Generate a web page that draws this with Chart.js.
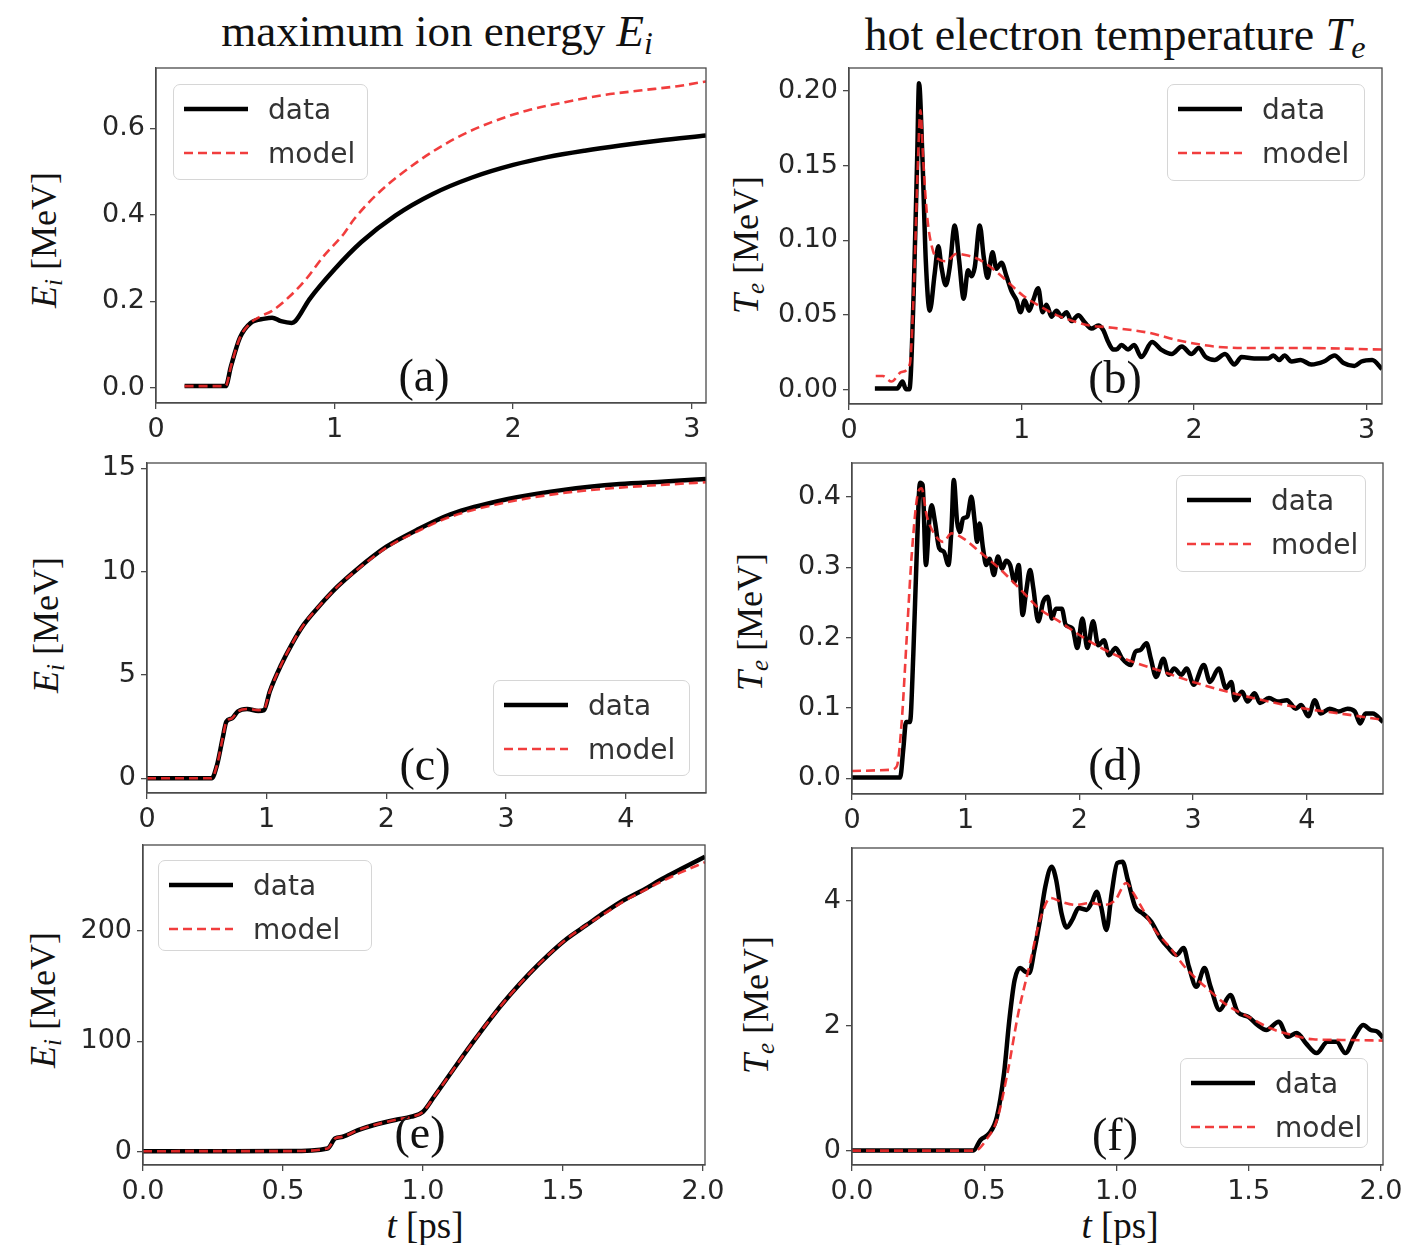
<!DOCTYPE html>
<html>
<head>
<meta charset="utf-8">
<script src="https://cdn.jsdelivr.net/npm/chart.js@4.4.1/dist/chart.umd.min.js"></script>
<style>
  body { margin: 0; background: #fff; width: 1403px; height: 1245px; position: relative; overflow: hidden; }
  canvas { position: absolute; }
  .serif { position: absolute; font-family: 'Liberation Serif', 'DejaVu Serif', serif; color: #111; white-space: nowrap; line-height: 1; transform: translate(-50%, -50%); }
  .rot { transform: translate(-50%, -50%) rotate(-90deg); }
  .serif sub { font-size: 70%; vertical-align: -0.25em; }
  .legend { position: absolute; box-sizing: border-box; border: 1.5px solid #d6d6d6; border-radius: 7px; background: rgba(255,255,255,0.85);
            font-family: 'DejaVu Sans', sans-serif; font-size: 28px; color: #333; }
  .legend .row { position: absolute; left: 0; height: 44px; display: flex; align-items: center; }
  .legend svg { margin-left: 10px; margin-right: 20px; }
</style>
</head>
<body>

<div class="serif" style="left:437px; top:34px; font-size:45px;">maximum ion energy <i>E<sub>i</sub></i></div>
<div class="serif" style="left:1115px; top:38px; font-size:46px;">hot electron temperature <i>T<sub>e</sub></i></div>

<div class="serif rot" style="left:46px; top:240px; font-size:36px;"><i>E<sub>i</sub></i> [MeV]</div>
<div class="serif rot" style="left:748px; top:245px; font-size:36px;"><i>T<sub>e</sub></i> [MeV]</div>
<div class="serif rot" style="left:48px; top:625px; font-size:36px;"><i>E<sub>i</sub></i> [MeV]</div>
<div class="serif rot" style="left:752px; top:622px; font-size:36px;"><i>T<sub>e</sub></i> [MeV]</div>
<div class="serif rot" style="left:45px; top:1000px; font-size:36px;"><i>E<sub>i</sub></i> [MeV]</div>
<div class="serif rot" style="left:758px; top:1005px; font-size:36px;"><i>T<sub>e</sub></i> [MeV]</div>

<div class="serif" style="left:425px; top:1225px; font-size:37px;"><i>t</i> [ps]</div>
<div class="serif" style="left:1120px; top:1225px; font-size:37px;"><i>t</i> [ps]</div>

<canvas id="chartA"></canvas>
<canvas id="chartB"></canvas>
<canvas id="chartC"></canvas>
<canvas id="chartD"></canvas>
<canvas id="chartE"></canvas>
<canvas id="chartF"></canvas>

<div class="serif" style="left:424px; top:376px; font-size:46px;">(a)</div>
<div class="serif" style="left:1115px; top:378px; font-size:46px;">(b)</div>
<div class="serif" style="left:425px; top:765px; font-size:46px;">(c)</div>
<div class="serif" style="left:1115px; top:765px; font-size:46px;">(d)</div>
<div class="serif" style="left:420px; top:1133px; font-size:46px;">(e)</div>
<div class="serif" style="left:1115px; top:1135px; font-size:46px;">(f)</div>

<script>
// ---------------- data ----------------

// (a) maximum ion energy, small target [MeV] vs t [ps]
const tDataA = [0.16, 0.39, 0.42, 0.47, 0.53, 0.61, 0.65, 0.70, 0.76, 0.78,
                0.86, 1.00, 1.15, 1.34, 1.55, 1.77, 2.00, 2.19, 2.40, 2.60,
                2.81, 3.08];
const eDataA = [0.004, 0.004, 0.05, 0.116, 0.15, 0.16, 0.162, 0.154, 0.15, 0.154,
                0.205, 0.274, 0.337, 0.398, 0.448, 0.486, 0.515, 0.533, 0.548, 0.56,
                0.571, 0.583];
const tModelA = [0.16, 0.39, 0.42, 0.47, 0.53, 0.59, 0.65, 0.74, 0.84, 0.94,
                 1.05, 1.11, 1.25, 1.46, 1.67, 1.88, 2.08, 2.29, 2.50, 2.71,
                 2.92, 3.08];
const eModelA = [0.004, 0.004, 0.05, 0.116, 0.15, 0.166, 0.178, 0.208, 0.251, 0.305,
                 0.355, 0.39, 0.452, 0.521, 0.575, 0.614, 0.641, 0.66, 0.676, 0.687,
                 0.697, 0.708];

// (b) hot electron temperature [MeV]
const tDataB = [0.15, 0.28, 0.31, 0.33, 0.35, 0.375, 0.395, 0.406, 0.426, 0.445,
                0.468, 0.497, 0.518, 0.536, 0.561, 0.584, 0.613, 0.638, 0.665, 0.69,
                0.71, 0.729, 0.758, 0.781, 0.803, 0.832, 0.855, 0.884, 0.913, 0.942,
                0.971, 0.994, 1.019, 1.044, 1.068, 1.097, 1.122, 1.145, 1.174, 1.203,
                1.232, 1.261, 1.29, 1.329, 1.368, 1.406, 1.445, 1.474, 1.503, 1.532,
                1.55, 1.58, 1.618, 1.653, 1.695, 1.757, 1.809, 1.871, 1.93, 1.985,
                2.027, 2.068, 2.12, 2.18, 2.234, 2.276, 2.349, 2.43, 2.46, 2.494,
                2.525, 2.566, 2.618, 2.68, 2.753, 2.815, 2.867, 2.93, 2.971, 3.033,
                3.09];
const TDataB = [0.001, 0.001, 0.0056, 0.0005, 0.0005, 0.065, 0.154, 0.205, 0.154, 0.087,
                0.053, 0.078, 0.096, 0.082, 0.07, 0.082, 0.11, 0.087, 0.061, 0.08,
                0.076, 0.082, 0.11, 0.089, 0.075, 0.092, 0.081, 0.085, 0.076, 0.066,
                0.06, 0.052, 0.06, 0.053, 0.06, 0.068, 0.052, 0.057, 0.049, 0.053,
                0.049, 0.052, 0.046, 0.05, 0.045, 0.041, 0.043, 0.04, 0.032, 0.027,
                0.027, 0.03, 0.027, 0.03, 0.022, 0.032, 0.027, 0.024, 0.029, 0.024,
                0.028, 0.022, 0.02, 0.024, 0.017, 0.022, 0.021, 0.021, 0.023, 0.02,
                0.023, 0.019, 0.02, 0.017, 0.019, 0.023, 0.018, 0.016, 0.019, 0.02,
                0.014];
const tModelB = [0.155, 0.197, 0.246, 0.304, 0.352, 0.375, 0.40, 0.414, 0.43, 0.453,
                 0.487, 0.526, 0.565, 0.623, 0.681, 0.758, 0.855, 0.932, 1.01, 1.106,
                 1.203, 1.30, 1.397, 1.493, 1.747, 1.913, 2.12, 2.328, 2.639, 3.09];
const TModelB = [0.0093, 0.0093, 0.0056, 0.012, 0.017, 0.065, 0.154, 0.187, 0.154, 0.116,
                 0.093, 0.087, 0.086, 0.091, 0.09, 0.087, 0.079, 0.071, 0.063, 0.056,
                 0.05, 0.046, 0.043, 0.042, 0.038, 0.033, 0.029, 0.028, 0.028, 0.027];

// (c) maximum ion energy, medium case
const tC = [0, 0.54, 0.585, 0.632, 0.663, 0.71, 0.758, 0.836, 0.93, 0.978,
            1.025, 1.12, 1.214, 1.308, 1.434, 1.591, 1.748, 2.0, 2.25, 2.535,
            3.006, 3.478, 3.95, 4.327, 4.67];
const eDataC = [0, 0, 0.645, 1.94, 2.74, 2.9, 3.23, 3.35, 3.26, 3.3,
                4.19, 5.48, 6.53, 7.42, 8.3, 9.27, 10.08, 11.2, 12.0, 12.77,
                13.5, 13.95, 14.23, 14.35, 14.48];
const eModelC = [0, 0, 0.645, 1.94, 2.74, 2.9, 3.23, 3.35, 3.3, 3.35,
                 4.19, 5.48, 6.53, 7.42, 8.3, 9.27, 10.05, 11.15, 11.92, 12.65,
                 13.35, 13.8, 14.06, 14.2, 14.32];

// (d) hot electron temperature, medium case
const tDataD = [0, 0.423, 0.452, 0.475, 0.51, 0.539, 0.569, 0.598, 0.621, 0.65,
                0.679, 0.70, 0.729, 0.767, 0.808, 0.848, 0.875, 0.895, 0.924, 0.948,
                0.977, 1.015, 1.05, 1.079, 1.10, 1.122, 1.152, 1.181, 1.21, 1.248,
                1.283, 1.321, 1.356, 1.391, 1.429, 1.466, 1.501, 1.531, 1.566, 1.595,
                1.638, 1.682, 1.72, 1.758, 1.793, 1.845, 1.88, 1.939, 1.982, 2.026,
                2.07, 2.12, 2.166, 2.216, 2.26, 2.318, 2.376, 2.449, 2.493, 2.534,
                2.59, 2.628, 2.675, 2.738, 2.786, 2.833, 2.896, 2.943, 3.006, 3.094,
                3.148, 3.226, 3.289, 3.336, 3.368, 3.431, 3.478, 3.541, 3.588, 3.667,
                3.746, 3.824, 3.903, 3.95, 4.013, 4.07, 4.123, 4.202, 4.281, 4.359,
                4.422, 4.469, 4.517, 4.58, 4.67];
const TDataD = [0.001, 0.001, 0.043, 0.08, 0.08, 0.175, 0.317, 0.42, 0.417, 0.303,
                0.365, 0.388, 0.365, 0.327, 0.322, 0.303, 0.355, 0.424, 0.365, 0.35,
                0.369, 0.372, 0.4, 0.365, 0.336, 0.362, 0.327, 0.303, 0.312, 0.289,
                0.315, 0.298, 0.309, 0.303, 0.279, 0.303, 0.232, 0.265, 0.296, 0.27,
                0.223, 0.251, 0.258, 0.227, 0.241, 0.241, 0.218, 0.213, 0.185, 0.227,
                0.185, 0.223, 0.189, 0.196, 0.175, 0.185, 0.17, 0.161, 0.18, 0.182,
                0.192, 0.17, 0.144, 0.17, 0.147, 0.156, 0.147, 0.156, 0.133, 0.161,
                0.137, 0.156, 0.128, 0.137, 0.111, 0.123, 0.109, 0.121, 0.107, 0.114,
                0.109, 0.111, 0.099, 0.104, 0.088, 0.111, 0.092, 0.099, 0.095, 0.099,
                0.095, 0.078, 0.092, 0.092, 0.08];
const tModelD = [0, 0.335, 0.394, 0.437, 0.481, 0.525, 0.583, 0.612, 0.656, 0.729,
                 0.802, 0.875, 0.977, 1.122, 1.297, 1.472, 1.647, 1.822, 1.997, 2.172,
                 2.347, 2.723, 3.037, 3.352, 3.667, 3.982, 4.296, 4.67];
const TModelD = [0.0104, 0.012, 0.017, 0.08, 0.199, 0.317, 0.407, 0.412, 0.374, 0.346,
                 0.336, 0.348, 0.341, 0.322, 0.298, 0.27, 0.241, 0.223, 0.204, 0.187,
                 0.173, 0.152, 0.135, 0.121, 0.109, 0.099, 0.092, 0.083];

// (e) maximum ion energy, large case
const tE = [0, 0.523, 0.659, 0.686, 0.713, 0.768, 0.822, 0.904, 0.958, 0.999,
            1.04, 1.107, 1.175, 1.243, 1.311, 1.379, 1.447, 1.515, 1.583, 1.651,
            1.719, 1.787, 1.855, 1.923, 2.007];
const eDataE = [0.5, 0.6, 3, 12, 13.6, 19.6, 24, 29, 31.7, 36,
                50, 74, 98, 121, 142, 161, 178, 193, 205, 217,
                228, 237, 247, 256, 267];
const eModelE = [0.5, 0.6, 3, 12, 13.6, 19.6, 24, 29, 31.7, 36,
                 50, 74, 98, 121, 142, 161, 178, 193, 205, 216,
                 227, 236, 245, 253, 262];

// (f) hot electron temperature, large case
const tDataF = [0, 0.459, 0.486, 0.52, 0.548, 0.575, 0.595, 0.615, 0.636, 0.656,
                0.67, 0.69, 0.711, 0.731, 0.755, 0.772, 0.792, 0.812, 0.833, 0.857,
                0.887, 0.908, 0.925, 0.942, 0.962, 0.982, 1.003, 1.023, 1.043, 1.071,
                1.098, 1.132, 1.166, 1.193, 1.227, 1.254, 1.274, 1.302, 1.333, 1.356,
                1.39, 1.431, 1.458, 1.499, 1.533, 1.567, 1.614, 1.648, 1.682, 1.716,
                1.757, 1.798, 1.832, 1.866, 1.90, 1.933, 1.961, 1.988, 2.008];
const TDataF = [0, 0, 0.17, 0.28, 0.54, 1.24, 2.09, 2.73, 2.92, 2.86,
                2.84, 3.21, 3.69, 4.22, 4.54, 4.33, 3.8, 3.57, 3.69, 3.88,
                3.85, 3.98, 4.14, 3.9, 3.53, 4.12, 4.6, 4.62, 4.33, 3.9,
                3.8, 3.66, 3.4, 3.26, 3.13, 3.24, 2.94, 2.62, 2.92, 2.62,
                2.25, 2.49, 2.22, 2.14, 2.01, 1.93, 2.06, 1.82, 1.88, 1.72,
                1.56, 1.74, 1.74, 1.56, 1.82, 2.01, 1.93, 1.9, 1.8];
const tModelF = [0, 0.466, 0.507, 0.548, 0.588, 0.629, 0.67, 0.711, 0.751, 0.792,
                 0.846, 0.901, 0.955, 0.996, 1.037, 1.064, 1.105, 1.145, 1.20, 1.268,
                 1.336, 1.417, 1.499, 1.58, 1.662, 1.743, 1.852, 2.008];
const TModelF = [0, 0, 0.17, 0.49, 1.24, 2.2, 2.94, 3.69, 4.04, 3.98,
                 3.93, 3.96, 3.93, 4.01, 4.28, 4.12, 3.82, 3.53, 3.26, 2.89,
                 2.62, 2.33, 2.14, 1.96, 1.85, 1.78, 1.77, 1.76];

// tick labels
const xTicksA = [0, 1, 2, 3];
const yTicksA = [0, 0.2, 0.4, 0.6];
const xTicksB = [0, 1, 2, 3];
const yTicksB = [0, 0.05, 0.10, 0.15, 0.20];
const xTicksC = [0, 1, 2, 3, 4];
const yTicksC = [0, 5, 10, 15];
const xTicksD = [0, 1, 2, 3, 4];
const yTicksD = [0, 0.1, 0.2, 0.3, 0.4];
const xTicksE = [0, 0.5, 1.0, 1.5, 2.0];
const yTicksE = [0, 100, 200];
const xTicksF = [0, 0.5, 1.0, 1.5, 2.0];
const yTicksF = [0, 2, 4];

const seriesNames = ['data', 'model'];

// ---------------- layout of the six panels ----------------
const YW = 80, XH = 46, PT = 22, PR = 28;
const axisColor = '#4a4a4a';
const tickFont = { family: 'DejaVu Sans', size: 27 };

// frame round the plot area (matplotlib spines)
const framePlugin = {
  id: 'frame',
  afterDatasetsDraw(chart) {
    const a = chart.chartArea, ctx = chart.ctx;
    ctx.save();
    ctx.strokeStyle = axisColor;
    ctx.lineWidth = 1.3;
    ctx.strokeRect(a.left, a.top, a.right - a.left, a.bottom - a.top);
    ctx.restore();
  }
};

function pts(xs, ys) {
  return xs.map((x, i) => ({ x: x, y: ys[i] }));
}

function axis(min, max, ticks, dec, isX) {
  return {
    type: 'linear', min: min, max: max,
    afterBuildTicks: ax => { ax.ticks = ticks.map(v => ({ value: v })); },
    afterFit: s => { if (isX) s.height = XH; else s.width = YW; },
    ticks: { font: tickFont, color: '#262626', padding: 5, maxRotation: 0, autoSkip: false,
             callback: v => Number(v).toFixed(dec) },
    grid: { display: true, drawOnChartArea: false, drawTicks: true, tickLength: 6, color: axisColor, lineWidth: 1.3 },
    border: { display: true, color: axisColor, width: 1.3 }
  };
}

function makePanel(id, box, xr, yr, xt, xdec, yt, ydec, t1, y1, t2, y2, leg) {
  const cv = document.getElementById(id);
  cv.width = YW + box[2] + PR;
  cv.height = PT + box[3] + XH;
  cv.style.left = (box[0] - YW) + 'px';
  cv.style.top = (box[1] - PT) + 'px';

  const chart = new Chart(cv, {
    type: 'line',
    data: {
      datasets: [
        { label: seriesNames[0], data: pts(t1, y1), borderColor: '#000', borderWidth: 4.5,
          pointRadius: 0, cubicInterpolationMode: 'monotone', order: 2, borderJoinStyle: 'round' },
        { label: seriesNames[1], data: pts(t2, y2), borderColor: 'rgba(240,40,40,0.9)', borderWidth: 2.6,
          borderDash: [9, 5], pointRadius: 0, cubicInterpolationMode: 'monotone', order: 1 }
      ]
    },
    options: {
      responsive: false,
      animation: false,
      layout: { padding: { top: PT, right: PR, left: 0, bottom: 0 } },
      plugins: { legend: { display: false }, tooltip: { enabled: false } },
      scales: {
        x: axis(xr[0], xr[1], xt, xdec, true),
        y: axis(yr[0], yr[1], yt, ydec, false)
      }
    },
    plugins: [framePlugin]
  });

  // html legend built from the chart's own datasets
  const lg = document.createElement('div');
  lg.className = 'legend';
  lg.style.left = leg[0] + 'px';
  lg.style.top = leg[1] + 'px';
  lg.style.width = leg[2] + 'px';
  lg.style.height = leg[3] + 'px';
  chart.data.datasets.forEach((ds, i) => {
    const row = document.createElement('div');
    row.className = 'row';
    row.style.top = (2 + 44 * i) + 'px';
    const dash = ds.borderDash ? ds.borderDash.join(' ') : 'none';
    row.innerHTML = '<svg width="64" height="10"><line x1="0" y1="5" x2="64" y2="5" stroke="' + ds.borderColor +
      '" stroke-width="' + ds.borderWidth + '" stroke-dasharray="' + dash + '"/></svg><span>' + ds.label + '</span>';
    lg.appendChild(row);
  });
  document.body.appendChild(lg);
  return chart;
}

makePanel('chartA', [156, 68, 550, 335], [0, 3.08], [-0.035, 0.739], xTicksA, 0, yTicksA, 1,
          tDataA, eDataA, tModelA, eModelA, [173, 84, 195, 96]);
makePanel('chartB', [849, 68, 533, 336], [0, 3.09], [-0.0094, 0.2152], xTicksB, 0, yTicksB, 2,
          tDataB, TDataB, tModelB, TModelB, [1167, 84, 198, 97]);
makePanel('chartC', [147, 463, 559, 330], [0, 4.67], [-0.71, 15.25], xTicksC, 0, yTicksC, 0,
          tC, eDataC, tC, eModelC, [493, 680, 197, 96]);
makePanel('chartD', [852, 463, 531, 331], [0, 4.67], [-0.0223, 0.448], xTicksD, 0, yTicksD, 1,
          tDataD, TDataD, tModelD, TModelD, [1176, 475, 190, 97]);
makePanel('chartE', [143, 845, 562, 320], [0, 2.007], [-12, 277.6], xTicksE, 1, yTicksE, 0,
          tE, eDataE, tE, eModelE, [158, 860, 214, 91]);
makePanel('chartF', [852, 848, 531, 317], [0, 2.008], [-0.23, 4.84], xTicksF, 1, yTicksF, 0,
          tDataF, TDataF, tModelF, TModelF, [1180, 1058, 188, 90]);
</script>
</body>
</html>
